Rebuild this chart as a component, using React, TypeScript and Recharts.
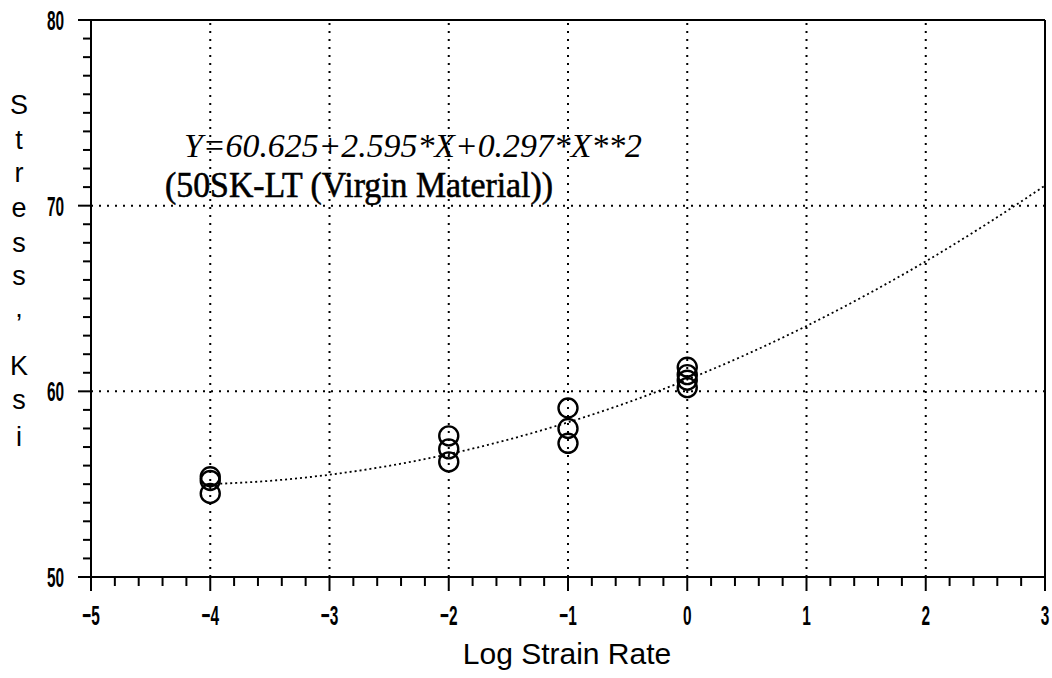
import React from 'react';
import { ComposedChart, Line, Scatter, XAxis, YAxis, ReferenceLine } from 'recharts';

// Measured points (Log strain rate, stress ksi)
const pointX = [-4, -4, -4, -2, -2, -2, -1, -1, -1, 0, 0, 0, 0];
const pointY = [55.4, 55.2, 54.5, 57.6, 56.9, 56.2, 59.1, 58.0, 57.2, 61.3, 60.9, 60.6, 60.2];

// Fitted curve
const curveX = [-4, -3.5, -3, -2.5, -2, -1.5, -1, -0.5, 0, 0.5, 1, 1.5, 2, 2.5, 3];
const curveY = [55.0, 55.18, 55.51, 55.99, 56.62, 57.4, 58.33, 59.4, 60.63, 62.0, 63.52, 65.19, 67.0, 68.97, 71.08];

const xGridLines = [-4, -3, -2, -1, 0, 1, 2];
const yGridLines = [60, 70];

const xTicks: number[] = [];
for (let i = -25; i <= 15; i++) xTicks.push(i / 5);
const yTicks: number[] = [];
for (let i = 50; i <= 80; i++) yTicks.push(i);

const yTitleLetters = ['S', 't', 'r', 'e', 's', 's', ',', 'K', 's', 'i'];
const yTitleBaselines = [114, 149, 182, 217, 252, 285, 317, 375, 409, 446];

const points = pointX.map((x, i) => ({ x, y: pointY[i] }));
const curve = curveX.map((x, i) => ({ x, y: curveY[i] }));

const fmt = (v: number) => (v < 0 ? '\u2212' + Math.abs(v) : String(v));

const XTick = (props: any) => {
  const { x, y, payload } = props;
  const v = payload.value;
  const major = Math.abs(v - Math.round(v)) < 1e-6;
  return (
    <g>
      <line x1={x} y1={y} x2={x} y2={y + (major ? 14 : 9)} stroke="#000" strokeWidth={2} />
      {major && (
        <text
          transform={`translate(${x},${y + 48}) scale(0.55,1)`}
          textAnchor="middle"
          fontFamily="Liberation Sans, Arial, sans-serif"
          fontWeight="bold"
          fontSize={28}
          fill="#000"
        >
          {fmt(Math.round(v))}
        </text>
      )}
    </g>
  );
};

const YTick = (props: any) => {
  const { x, y, payload } = props;
  const v = payload.value;
  const major = v % 10 === 0;
  return (
    <g>
      <line x1={x} y1={y} x2={x - (major ? 13 : 8)} y2={y} stroke="#000" strokeWidth={2} />
      {major && (
        <text
          transform={`translate(${x - 27},${y + 10}) scale(0.55,1)`}
          textAnchor="end"
          fontFamily="Liberation Sans, Arial, sans-serif"
          fontWeight="bold"
          fontSize={28}
          fill="#000"
        >
          {String(v)}
        </text>
      )}
    </g>
  );
};

const Circle = (props: any) => {
  const { cx, cy } = props;
  return <circle cx={cx} cy={cy} r={9.5} fill="none" stroke="#000" strokeWidth={2.4} />;
};

export default function App() {
  return (
    <div style={{ position: 'absolute', left: 0, top: 0, width: 1052, height: 678, background: '#fff' }}>
      <ComposedChart width={1052} height={678} margin={{ top: 20, right: 7, bottom: 61, left: 31 }}>
        <XAxis
          type="number"
          dataKey="x"
          domain={[-5, 3]}
          ticks={xTicks}
          interval={0}
          allowDataOverflow
          tickLine={false}
          tickSize={0}
          tickMargin={0}
          tick={<XTick />}
          axisLine={{ stroke: '#000', strokeWidth: 2 }}
          height={40}
        />
        <YAxis
          type="number"
          dataKey="y"
          domain={[50, 80]}
          ticks={yTicks}
          interval={0}
          allowDataOverflow
          tickLine={false}
          tickSize={0}
          tickMargin={0}
          tick={<YTick />}
          axisLine={{ stroke: '#000', strokeWidth: 2 }}
          width={60}
        />
        {xGridLines.map((v) => (
          <ReferenceLine key={'gx' + v} x={v} stroke="#000" strokeWidth={2} strokeDasharray="2 6" />
        ))}
        {yGridLines.map((v) => (
          <ReferenceLine key={'gy' + v} y={v} stroke="#000" strokeWidth={2} strokeDasharray="2 6" />
        ))}
        <ReferenceLine y={80} stroke="#000" strokeWidth={2} />
        <ReferenceLine x={3} stroke="#000" strokeWidth={2} />
        <Line
          data={curve}
          dataKey="y"
          type="monotone"
          stroke="#000"
          strokeWidth={1.8}
          strokeDasharray="2 3"
          dot={false}
          activeDot={false}
          isAnimationActive={false}
        />
        <Scatter data={points} dataKey="y" shape={<Circle />} isAnimationActive={false} />
      </ComposedChart>
      <svg
        width={1052}
        height={678}
        style={{ position: 'absolute', left: 0, top: 0, pointerEvents: 'none' }}
      >
        <text
          x={184}
          y={157}
          fontFamily="Liberation Serif, serif"
          fontStyle="italic"
          fontSize={34}
          textLength={458}
          lengthAdjust="spacingAndGlyphs"
          fill="#000"
        >
          Y=60.625+2.595*X+0.297*X**2
        </text>
        <text
          x={165}
          y={197}
          fontFamily="Liberation Serif, serif"
          fontSize={36}
          textLength={388}
          lengthAdjust="spacingAndGlyphs"
          fill="#000"
          stroke="#000"
          strokeWidth={0.6}
        >
          (50SK-LT (Virgin Material))
        </text>
        {yTitleLetters.map((ch, i) => (
          <text
            key={'yt' + i}
            x={19}
            y={yTitleBaselines[i]}
            textAnchor="middle"
            fontFamily="Liberation Sans, Arial, sans-serif"
            fontSize={27}
            fill="#000"
          >
            {ch}
          </text>
        ))}
        <text
          x={567}
          y={664}
          textAnchor="middle"
          fontFamily="Liberation Sans, Arial, sans-serif"
          fontSize={30}
          fill="#000"
        >
          Log Strain Rate
        </text>
      </svg>
    </div>
  );
}
